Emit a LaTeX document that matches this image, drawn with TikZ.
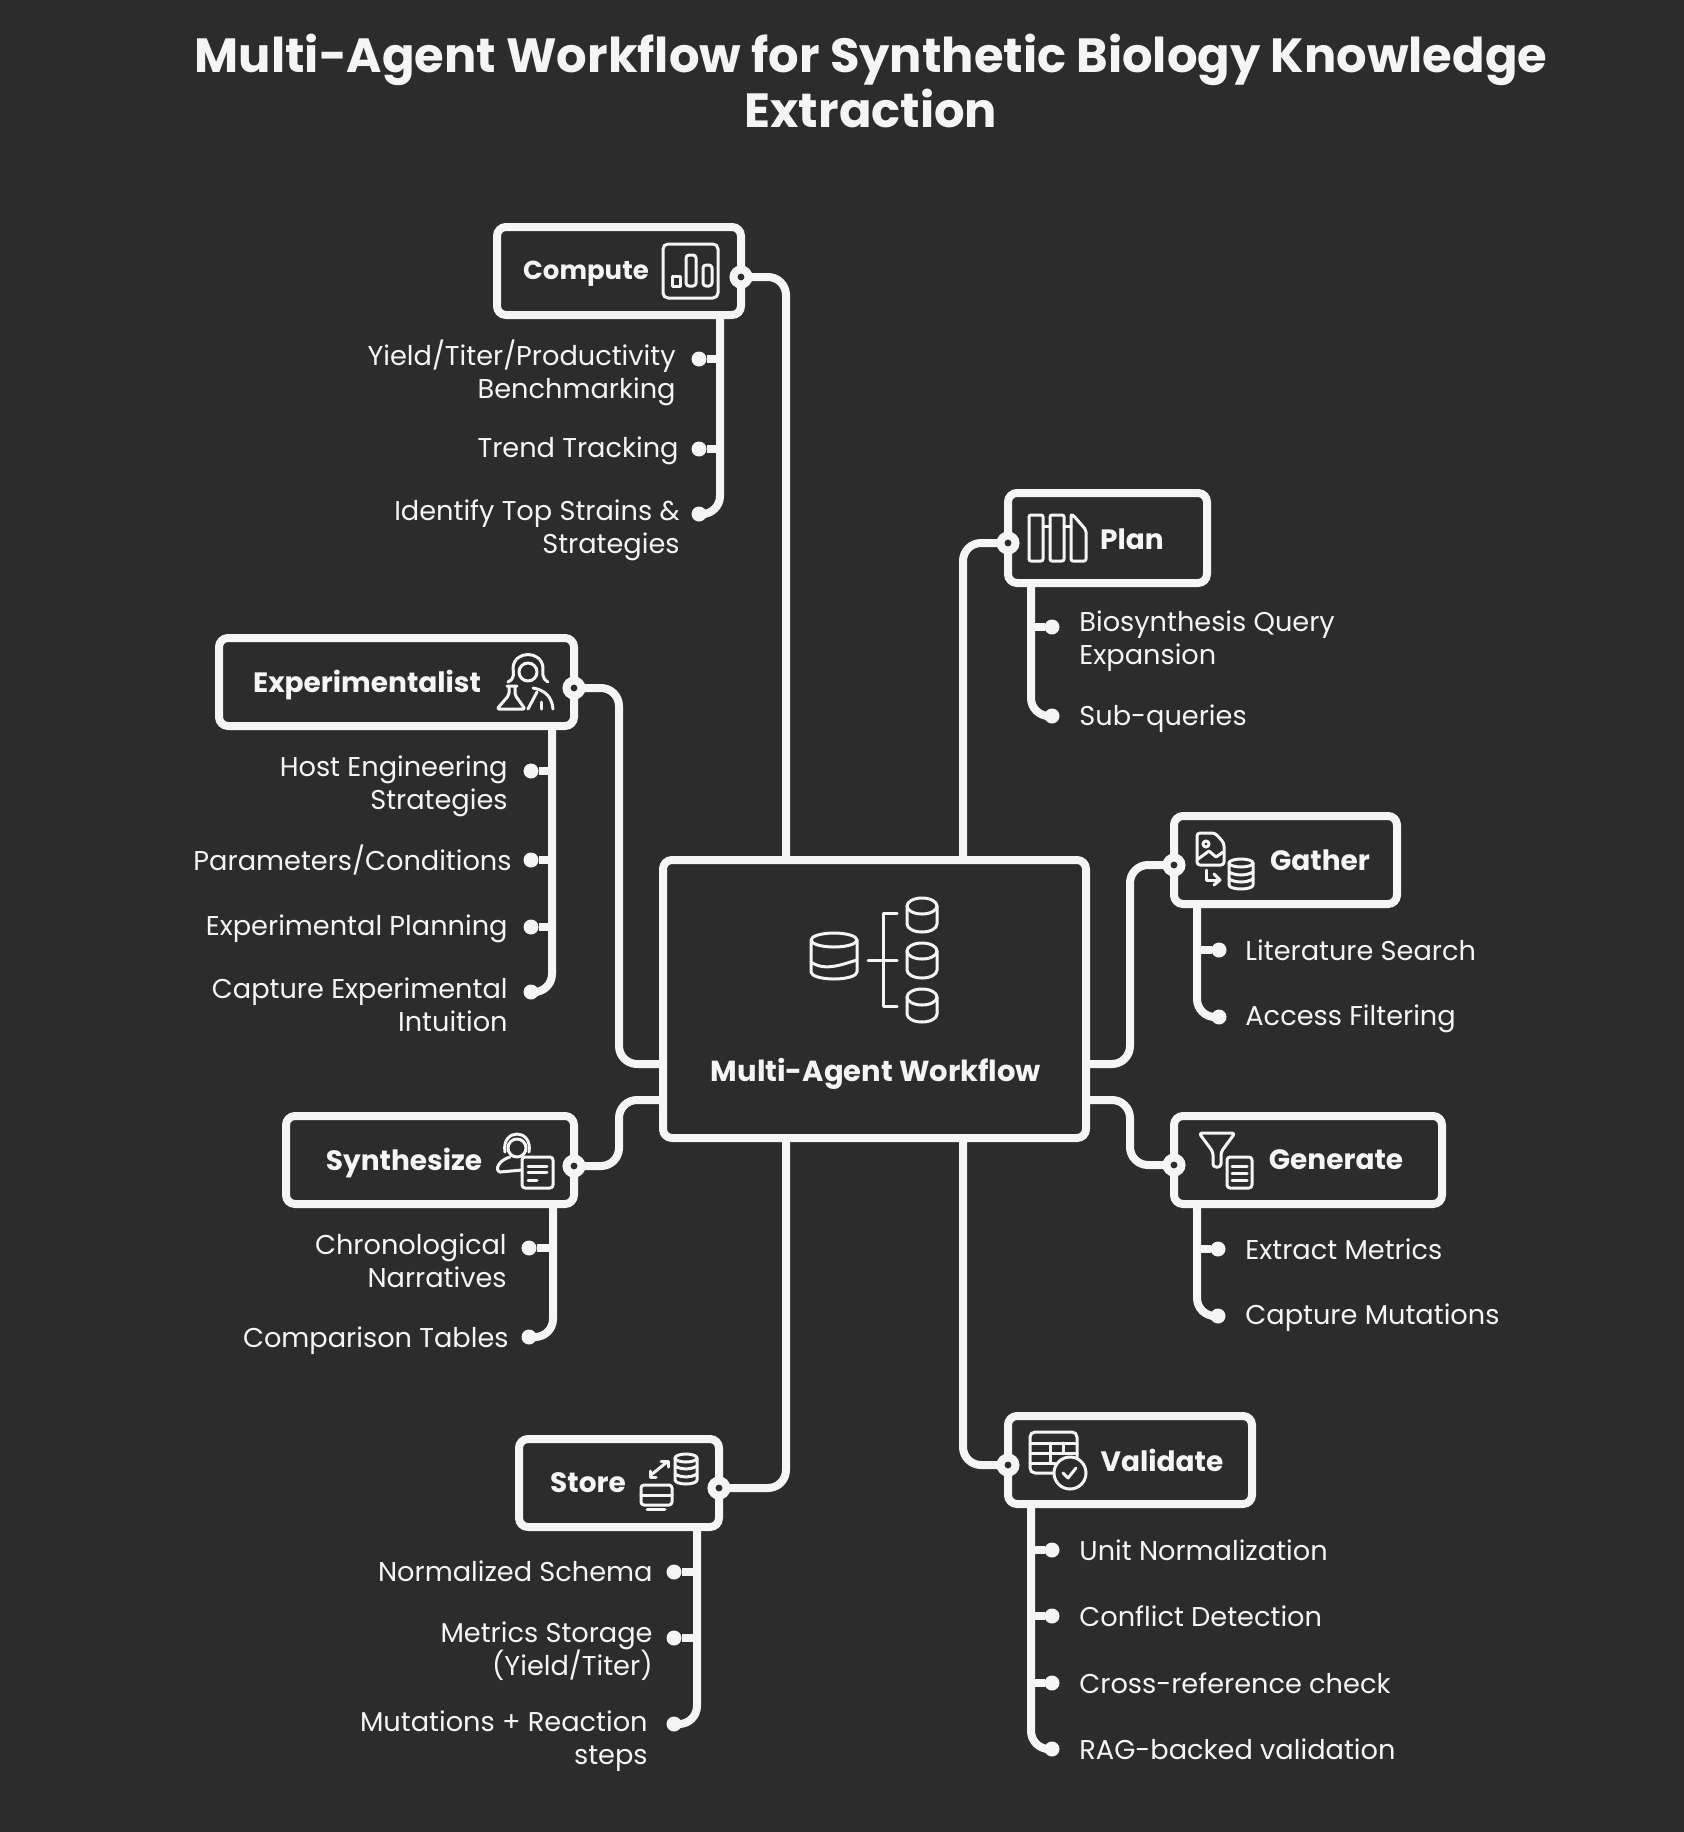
\documentclass[tikz,border=0pt]{standalone}
\usepackage{fontspec}
\setmainfont{Poppins}
\usetikzlibrary{decorations.pathmorphing}
\definecolor{slate}{HTML}{2C2C2C}
\definecolor{chalk}{HTML}{F5F5F5}
% small database can: x, y of the lid, x radius, y radius, height
\newcommand{\dbcan}[5]{
  \draw[icon] (#1,#2) ellipse [x radius=#3, y radius=#4];
  \draw[icon] (#1-#3,#2) -- (#1-#3,#2+#5) arc [start angle=180, end angle=0, x radius=#3, y radius=#4] -- (#1+#3,#2);
}
\begin{document}
\begin{tikzpicture}[
    x=0.5pt, y=-0.5pt,
    box/.style={rectangle, draw=chalk, fill=slate, line width=4pt, inner sep=0pt, outer sep=0pt, minimum height=44pt,
      rounded corners=4.5pt},
    title/.style={font=\fontsize{24}{27.5}\selectfont\bfseries, text=chalk, align=center},
    head/.style={font=\fontsize{14}{17}\selectfont\bfseries, text=chalk, inner sep=0pt},
    leaf/.style={font=\fontsize{13.6}{16.5}\selectfont, text=chalk, inner sep=0pt},
    leafl/.style={leaf, anchor=east, align=right},
    leafr/.style={leaf, anchor=west, align=left},
    port/.style={circle, draw=chalk, fill=slate, line width=4pt, inner sep=0pt, outer sep=0pt, minimum size=7.5pt},
    dot/.style={circle, fill=chalk, inner sep=0pt, outer sep=0pt, minimum size=7.5pt},
    link/.style={draw=chalk, line width=4pt, rounded corners=9pt},
    twig/.style={draw=chalk, line width=4pt},
    icon/.style={draw=chalk, line width=1.5pt, line join=round, line cap=round}
]
\fill[slate] (0,0) rectangle (1684,1832);
\useasboundingbox (0,0) rectangle (1684,1832);

\node[title] (heading) at (871,81) {Multi-Agent Workflow for Synthetic Biology Knowledge\\Extraction};

% boxes
\node[box, minimum width=211.5pt, minimum height=139pt] (centre) at (874.5,999) {};
\node[box, minimum width=122pt] (compute) at (619,271) {};
\node[box, minimum width=177.5pt] (experimentalist) at (396.5,682) {};
\node[box, minimum width=144pt] (synthesize) at (430,1160) {};
\node[box, minimum width=100pt] (store) at (619,1483) {};
\node[box, minimum width=99.5pt, minimum height=45pt] (plan) at (1107.5,538) {};
\node[box, minimum width=111.5pt] (gather) at (1285.5,860) {};
\node[box, minimum width=134pt] (generate) at (1308,1160) {};
\node[box, minimum width=122pt] (validate) at (1130,1460) {};

\node[head, font=\fontsize{14.5}{18}\selectfont\bfseries] at (876,1074) {Multi-Agent Workflow};
\node[head, font=\fontsize{13}{16}\selectfont\bfseries] at (586,274) {Compute};
\node[head] at (367,685) {Experimentalist};
\node[head] at (404,1163) {Synthesize};
\node[head] at (588,1483) {Store};
\node[head] at (1132,539) {Plan};
\node[head] at (1320,860) {Gather};
\node[head] at (1336,1160) {Generate};
\node[head] at (1162,1460) {Validate};

% ports and the points where links meet the centre box
\node[port] (computeport) at (741,277) {};
\node[port] (experimentalistport) at (574,688) {};
\node[port] (synthesizeport) at (574,1166) {};
\node[port] (storeport) at (719,1488) {};
\node[port] (planport) at (1008,543) {};
\node[port] (gatherport) at (1174,865) {};
\node[port] (generateport) at (1174,1165) {};
\node[port] (validateport) at (1008,1465) {};

\coordinate (northa) at (786,860);
\coordinate (northb) at (963,860);
\coordinate (southa) at (786,1138);
\coordinate (southb) at (963,1138);
\coordinate (westa) at (663,1064);
\coordinate (westb) at (663,1100);
\coordinate (easta) at (1086,1064);
\coordinate (eastb) at (1086,1100);
\coordinate (jogwa) at (619,1064);
\coordinate (jogwb) at (619,1100);
\coordinate (jogea) at (1130,1064);
\coordinate (jogeb) at (1130,1100);

\draw[link] (computeport) -| (northa);
\draw[link] (planport) -| (northb);
\draw[link] (storeport) -| (southa);
\draw[link] (validateport) -| (southb);
\draw[link] (experimentalistport) -| (jogwa) -- (westa);
\draw[link] (synthesizeport) -| (jogwb) -- (westb);
\draw[link] (gatherport) -| (jogea) -- (easta);
\draw[link] (generateport) -| (jogeb) -- (eastb);

% compute
\coordinate (computetrunk) at (720,315);
\node[dot] (yield) at (699,359) {};
\node[dot] (trend) at (699,449) {};
\node[dot] (strains) at (699,514) {};
\node[leafl] at (676,373) {Yield/Titer/Productivity\\Benchmarking};
\node[leafl] at (679,451) {Trend Tracking};
\node[leafl] at (680,530) {Identify Top Strains \&\\Strategies};
\draw[twig] (computetrunk) |- (yield);
\draw[twig] (computetrunk) |- (trend);
\draw[link] (computetrunk) |- (strains);

% experimentalist
\coordinate (experimentalisttrunk) at (552,726);
\node[dot] (host) at (531,771) {};
\node[dot] (params) at (531,860) {};
\node[dot] (planning) at (531,927) {};
\node[dot] (intuition) at (531,992) {};
\node[leafl] at (508,786) {Host Engineering\\Strategies};
\node[leafl] at (512,860) {Parameters/Conditions};
\node[leafl] at (508,929) {Experimental Planning};
\node[leafl] at (508,1005) {Capture Experimental\\Intuition};
\draw[twig] (experimentalisttrunk) |- (host);
\draw[twig] (experimentalisttrunk) |- (params);
\draw[twig] (experimentalisttrunk) |- (planning);
\draw[link] (experimentalisttrunk) |- (intuition);

% synthesize
\coordinate (synthesizetrunk) at (553,1204);
\node[dot] (narratives) at (529,1248) {};
\node[dot] (tables) at (529,1337) {};
\node[leafl] at (507,1261) {Chronological\\Narratives};
\node[leafl] at (509,1341) {Comparison Tables};
\draw[twig] (synthesizetrunk) |- (narratives);
\draw[link] (synthesizetrunk) |- (tables);

% store
\coordinate (storetrunk) at (697,1527);
\node[dot] (schema) at (674,1572) {};
\node[dot] (storage) at (674,1638) {};
\node[dot] (mutations) at (674,1724) {};
\node[leafl] at (653,1571) {Normalized Schema};
\node[leafl] at (653,1651) {Metrics Storage\\(Yield/Titer)};
\node[leafl] at (648,1741) {Mutations + Reaction\\steps};
\draw[twig] (storetrunk) |- (schema);
\draw[twig] (storetrunk) |- (storage);
\draw[link] (storetrunk) |- (mutations);

% plan
\coordinate (plantrunk) at (1031,583);
\node[dot] (expansion) at (1052,627) {};
\node[dot] (subqueries) at (1052,716) {};
\node[leafr] at (1079,641) {Biosynthesis Query\\Expansion};
\node[leafr] at (1079,719) {Sub-queries};
\draw[twig] (plantrunk) |- (expansion);
\draw[link] (plantrunk) |- (subqueries);

% gather
\coordinate (gathertrunk) at (1197,904);
\node[dot] (search) at (1219,950) {};
\node[dot] (access) at (1219,1017) {};
\node[leafr] at (1245,950) {Literature Search};
\node[leafr] at (1245,1019) {Access Filtering};
\draw[twig] (gathertrunk) |- (search);
\draw[link] (gathertrunk) |- (access);

% generate
\coordinate (generatetrunk) at (1197,1204);
\node[dot] (metrics) at (1218,1249) {};
\node[dot] (capture) at (1218,1316) {};
\node[leafr] at (1245,1249) {Extract Metrics};
\node[leafr] at (1245,1318) {Capture Mutations};
\draw[twig] (generatetrunk) |- (metrics);
\draw[link] (generatetrunk) |- (capture);

% validate
\coordinate (validatetrunk) at (1031,1504);
\node[dot] (unit) at (1052,1550) {};
\node[dot] (conflict) at (1052,1616) {};
\node[dot] (crossref) at (1052,1683) {};
\node[dot] (ragback) at (1052,1749) {};
\node[leafr] at (1079,1550) {Unit Normalization};
\node[leafr] at (1079,1616) {Conflict Detection};
\node[leafr] at (1079,1683) {Cross-reference check};
\node[leafr] at (1079,1749) {RAG-backed validation};
\draw[twig] (validatetrunk) |- (unit);
\draw[twig] (validatetrunk) |- (conflict);
\draw[twig] (validatetrunk) |- (crossref);
\draw[link] (validatetrunk) |- (ragback);

% icon of the centre box
\dbcan{834}{940}{23}{7}{32}
\draw[icon] (811,962) .. controls (825,972) and (843,964) .. (857,960);
\draw[icon] (868,960) -- (897,960);
\draw[icon] (897,913) -- (883,913) -- (883,1006) -- (897,1006);
\dbcan{922}{906}{15}{8}{18}
\dbcan{922}{951}{15}{8}{19}
\dbcan{922}{997}{15}{8}{17}

% icon of compute
\draw[icon, rounded corners=2.5pt] (663,244) rectangle (718,298);
\draw[icon] (672,276) rectangle (680,286);
\draw[icon, rounded corners=1.5pt] (686,255) rectangle (696,286);
\draw[icon, rounded corners=1.5pt] (703,265) rectangle (712,286);

% icon of experimentalist
\draw[icon] (508,682) .. controls (516,678) and (513,672) .. (513,668) .. controls (514,650) and (542,650) .. (543,668) .. controls (543,672) and (541,678) .. (548,682);
\draw[icon] (528,672) circle [radius=9];
\draw[icon, rounded corners=1pt] (507,686) -- (517,686) (509,686) -- (509,695) -- (497,709) -- (525,709) -- (515,695) -- (515,686);
\draw[icon] (533,688) .. controls (545,690) and (552,697) .. (553,709);
\draw[icon] (528,709) -- (537,692);
\draw[icon] (541,709) -- (541,702);

% icon of plan
\draw[icon, rounded corners=1pt] (1029,515) rectangle (1043,561);
\draw[icon, rounded corners=1pt] (1050,515) rectangle (1064,561);
\draw[icon, rounded corners=1pt] (1071,515) -- (1073,515) -- (1086,530) -- (1086,561) -- (1071,561) -- cycle;
\draw[icon] (1043,526) -- (1050,526) (1064,526) -- (1071,526);

% icon of gather
\draw[icon, rounded corners=1.5pt] (1197,833) -- (1215,833) -- (1224,843) -- (1224,865) -- (1197,865) -- cycle;
\draw[icon] (1206,844) circle [radius=3];
\draw[icon] (1198,859) -- (1209,851) -- (1216,857) -- (1223,852);
\draw[icon] (1206,870) -- (1206,880) -- (1219,880);
\draw[icon] (1214,874) -- (1220,880) -- (1214,885);
\dbcan{1241}{863}{12}{4}{22}
\draw[icon] (1229,872) .. controls (1236,876) and (1246,876) .. (1253,872);
\draw[icon] (1229,879) .. controls (1236,883) and (1246,883) .. (1253,879);

% icon of generate
\draw[icon, rounded corners=1.5pt] (1199,1133) -- (1235,1133) -- (1221,1152) -- (1221,1167) -- (1213,1167) -- (1213,1152) -- cycle;
\draw[icon, rounded corners=1.5pt, fill=slate] (1227,1157) rectangle (1252,1188);
\draw[icon] (1232,1166) -- (1247,1166) (1232,1173) -- (1247,1173) (1232,1180) -- (1247,1180);

% icon of validate
\draw[icon, rounded corners=2.5pt] (1030,1432) rectangle (1077,1473);
\draw[icon] (1030,1443) -- (1077,1443) (1030,1453) -- (1077,1453) (1030,1463) -- (1055,1463);
\draw[icon] (1050,1443) -- (1050,1463) (1063,1443) -- (1063,1453);
\draw[icon, fill=slate] (1070,1473) circle [radius=16];
\draw[icon] (1063,1473) -- (1068,1478) -- (1076,1468);

% icon of synthesize
\draw[icon] (517,1148) circle [radius=9];
\draw[icon] (505,1152) .. controls (501,1128) and (533,1128) .. (529,1152);
\draw[icon] (522,1170) -- (500,1172) .. controls (494,1170) and (499,1160) .. (510,1157);
\draw[icon, rounded corners=1.5pt, fill=slate] (522,1157) rectangle (553,1188);
\draw[icon] (528,1166) -- (547,1166) (528,1172) -- (547,1172) (528,1180) -- (537,1180);

% icon of store
\dbcan{686}{1458}{11}{4}{22}
\draw[icon] (675,1466) .. controls (682,1470) and (690,1470) .. (697,1466);
\draw[icon] (675,1474) .. controls (682,1478) and (690,1478) .. (697,1474);
\draw[icon] (651,1475) -- (667,1462);
\draw[icon] (661,1461) -- (668,1461) -- (668,1467);
\draw[icon] (650,1471) -- (650,1477) -- (656,1477);
\draw[icon, rounded corners=1.5pt] (641,1485) rectangle (672,1505);
\draw[icon] (641,1495) -- (672,1495);
\draw[icon] (647,1509) -- (665,1509);

\end{tikzpicture}
\end{document}
